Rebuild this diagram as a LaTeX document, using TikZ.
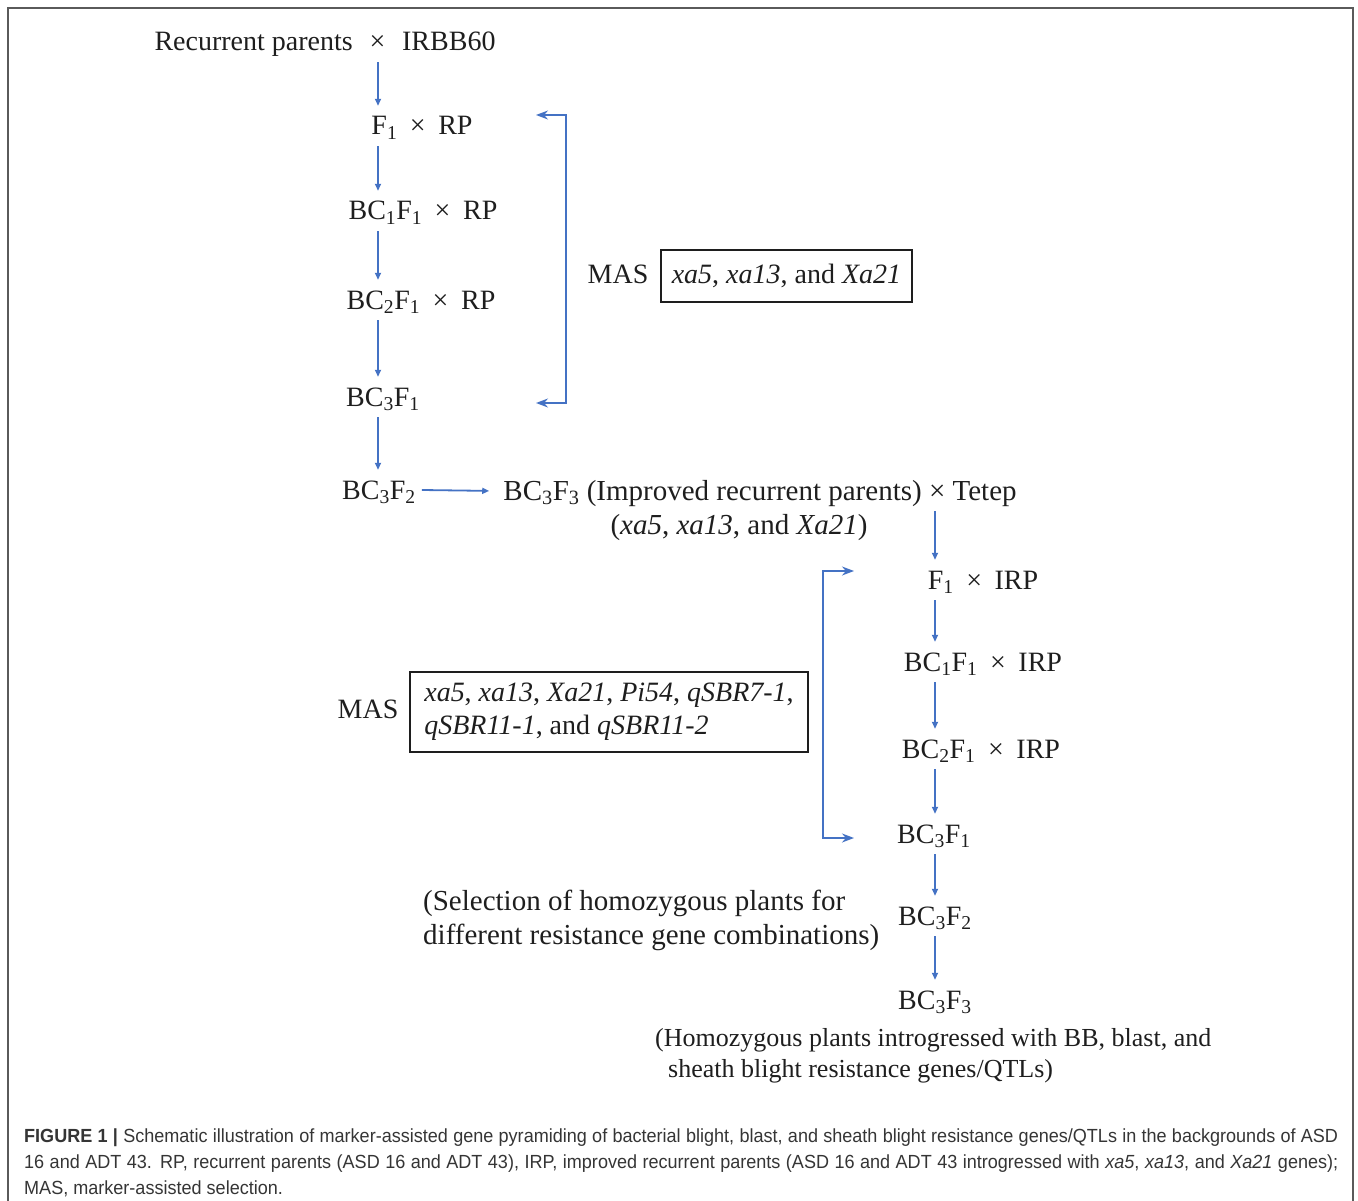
\documentclass[tikz,border=0pt]{standalone}
\usepackage{fontspec}
\setmainfont{Liberation Serif}
\newfontfamily\capfont[FakeStretch=0.95]{Liberation Sans}
\usetikzlibrary{arrows.meta}
\definecolor{arrblue}{RGB}{68,114,196}
\definecolor{txt}{RGB}{30,30,30}
\definecolor{framegray}{RGB}{90,90,90}
\newcommand{\crs}{\hspace{0.45em}×\hspace{0.45em}}
\newcommand{\sbs}[1]{\textsubscript{#1}}
\tikzset{
  lbl/.style={font=\fontsize{28}{32}\selectfont, text=txt, inner xsep=6pt, inner ysep=8pt,
              text height=21pt, text depth=3pt, anchor=center},
  plain/.style={font=\fontsize{28}{33}\selectfont, text=txt, inner sep=0pt},
  flow/.style={draw=arrblue, line width=1.8pt, -{Triangle[length=7pt,width=6pt]}},
  bracket/.style={draw=arrblue, line width=1.4pt, {Stealth[length=12pt,width=9pt]}-{Stealth[length=12pt,width=9pt]}},
  genebox/.style={draw=txt, line width=1.5pt, inner sep=0pt, text=txt},
}
\begin{document}
\begin{tikzpicture}[x=1pt,y=-1pt]
\useasboundingbox (0,0) rectangle (1358,1201);
% frame
\draw[framegray, line width=2pt] (8,1205) -- (8,8) -- (1353,8) -- (1353,1205);

% axis coordinates
\coordinate (ax1) at (378,0);
\coordinate (ax2) at (935,0);

% first backcross series
\node[lbl] (rp) at (325,42) {Recurrent parents\hspace{0.6em}×\hspace{0.6em}IRBB60};
\node[lbl] (f1rp) at (422,126) {F\sbs{1}\crs RP};
\node[lbl] (bc1rp) at (423,211) {BC\sbs{1}F\sbs{1}\crs RP};
\node[lbl] (bc2rp) at (421,300) {BC\sbs{2}F\sbs{1}\crs RP};
\node[lbl] (bc3f1a) at (383,397) {BC\sbs{3}F\sbs{1}};
\node[lbl] (bc3f2a) at (379,490) {BC\sbs{3}F\sbs{2}};
\node[lbl, font=\fontsize{29}{32}\selectfont] (irp) at (760,491) {BC\sbs{3}F\sbs{3} (Improved recurrent parents) × Tetep};
\node[plain, font=\fontsize{29}{33}\selectfont] (irpgenes) at (739,528) {(\textit{xa5}, \textit{xa13}, and \textit{Xa21})};

\draw[flow] (rp.south -| ax1) -- (f1rp.north -| ax1);
\draw[flow] (f1rp.south -| ax1) -- (bc1rp.north -| ax1);
\draw[flow] (bc1rp.south -| ax1) -- (bc2rp.north -| ax1);
\draw[flow] (bc2rp.south -| ax1) -- (bc3f1a.north -| ax1);
\draw[flow] (bc3f1a.south -| ax1) -- (bc3f2a.north -| ax1);
\draw[flow, shorten >=8pt] (bc3f2a.east) -- (irp.west);

% MAS 1
\coordinate (b1t) at (536,115);
\coordinate (b1b) at (536,403);
\draw[bracket] (b1t) -- (566,115) -- (566,403) -- (b1b);
\node[plain, anchor=center] (mas1) at (618,274) {MAS};
\node[genebox, font=\fontsize{28}{33}\selectfont, minimum width=251pt, minimum height=52pt] (box1) at (786.5,276)
  {\textit{xa5}, \textit{xa13}, and \textit{Xa21}};

% second backcross series
\node[lbl] (f1irp) at (983,580) {F\sbs{1}\crs IRP};
\node[lbl] (bc1irp) at (983,662) {BC\sbs{1}F\sbs{1}\crs IRP};
\node[lbl] (bc2irp) at (981,749) {BC\sbs{2}F\sbs{1}\crs IRP};
\node[lbl] (bc3f1b) at (934,834) {BC\sbs{3}F\sbs{1}};
\node[lbl] (bc3f2b) at (935,916) {BC\sbs{3}F\sbs{2}};
\node[lbl] (bc3f3b) at (935,1000) {BC\sbs{3}F\sbs{3}};

\draw[flow] (irp.south -| ax2) -- (f1irp.north -| ax2);
\draw[flow] (f1irp.south -| ax2) -- (bc1irp.north -| ax2);
\draw[flow] (bc1irp.south -| ax2) -- (bc2irp.north -| ax2);
\draw[flow] (bc2irp.south -| ax2) -- (bc3f1b.north -| ax2);
\draw[flow] (bc3f1b.south -| ax2) -- (bc3f2b.north -| ax2);
\draw[flow] (bc3f2b.south -| ax2) -- (bc3f3b.north -| ax2);

% MAS 2
\coordinate (b2t) at (854,571);
\coordinate (b2b) at (854,838);
\draw[bracket] (b2t) -- (823,571) -- (823,838) -- (b2b);
\node[plain, anchor=center] (mas2) at (368,709) {MAS};
\node[genebox, font=\fontsize{28}{33}\selectfont, minimum width=398pt, minimum height=80pt, align=left] (box2) at (609,712)
  {\textit{xa5}, \textit{xa13}, \textit{Xa21}, \textit{Pi54}, \textit{qSBR7-1},\\
   \textit{qSBR11-1}, and \textit{qSBR11-2}};

\node[plain, font=\fontsize{29}{34}\selectfont, align=left, anchor=west] (sel) at (423,920)
  {(Selection of homozygous plants for\\different resistance gene combinations)};
\node[plain, font=\fontsize{26}{31}\selectfont, anchor=west] (hom1) at (655,1040) {(Homozygous plants introgressed with BB, blast, and};
\node[plain, font=\fontsize{26}{31}\selectfont, anchor=west] (hom2) at (668,1071) {sheath blight resistance genes/QTLs)};

% caption
\node[anchor=north west, inner sep=0pt, text width=1314pt, align=justify,
      font=\capfont\fontsize{19}{25.6}\selectfont, text=txt!90] (cap) at (24,1129)
  {\textbf{FIGURE 1 |} Schematic illustration of marker-assisted gene pyramiding of bacterial blight, blast, and sheath blight resistance genes/QTLs in the backgrounds of ASD\linebreak
   16 and ADT 43. RP, recurrent parents (ASD 16 and ADT 43), IRP, improved recurrent parents (ASD 16 and ADT 43 introgressed with \textit{xa5}, \textit{xa13}, and \textit{Xa21} genes);\linebreak
   MAS, marker-assisted selection.};
\end{tikzpicture}
\end{document}
